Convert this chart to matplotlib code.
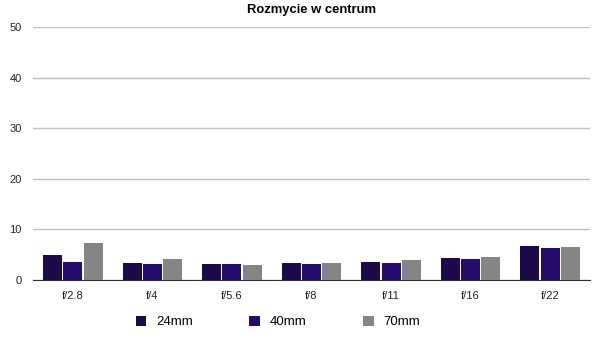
import matplotlib
matplotlib.use("Agg")
import matplotlib.pyplot as plt
import numpy as np

plt.rcParams['font.family'] = ['Liberation Sans', 'DejaVu Sans']

# Dane
apertures = ["f/2.8", "f/4", "f/5.6", "f/8", "f/11", "f/16", "f/22"]
series_names = ["24mm", "40mm", "70mm"]
blur_24 = [4.9, 3.3, 3.15, 3.3, 3.5, 4.3, 6.7]
blur_40 = [3.5, 3.15, 3.15, 3.15, 3.3, 4.1, 6.3]
blur_70 = [7.25, 4.1, 2.9, 3.3, 3.9, 4.5, 6.5]
colors = ["#1c0a4a", "#260a6e", "#858585"]

fig = plt.figure(figsize=(6.01, 3.41), dpi=100)
ax = fig.add_axes([33 / 601, 1 - 280 / 341, 557 / 601, 253 / 341])

x = np.arange(len(apertures))
width = 0.24
for i, (vals, name) in enumerate(zip([blur_24, blur_40, blur_70], series_names)):
    ax.bar(x + (i - 1) * 0.255, vals, width, color=colors[i], label=name, zorder=3)

ax.set_xlim(-0.5, len(apertures) - 0.5)
ax.set_ylim(0, 50)
ax.set_yticks(range(0, 51, 10))
ax.set_xticks(x)
ax.set_xticklabels(apertures)
ax.yaxis.grid(True, color="#c0c0c0", linewidth=1)
ax.set_axisbelow(True)
for s in ["top", "right", "left"]:
    ax.spines[s].set_visible(False)
ax.spines["bottom"].set_color("#333333")
ax.tick_params(axis="both", length=0, labelsize=8, colors="#222222")
ax.tick_params(axis="y", pad=8)
ax.tick_params(axis="x", pad=8)

ax.set_title("Rozmycie w centrum", fontsize=9.4, fontweight="bold", pad=10)

fig.legend(loc="center", bbox_to_anchor=(278 / 601, 1 - 322 / 341), ncol=3, frameon=False,
           fontsize=9.5, handlelength=0.83, handleheight=0.83, columnspacing=4.25,
           handletextpad=0.75)

fig.savefig("out.png", dpi=100)
